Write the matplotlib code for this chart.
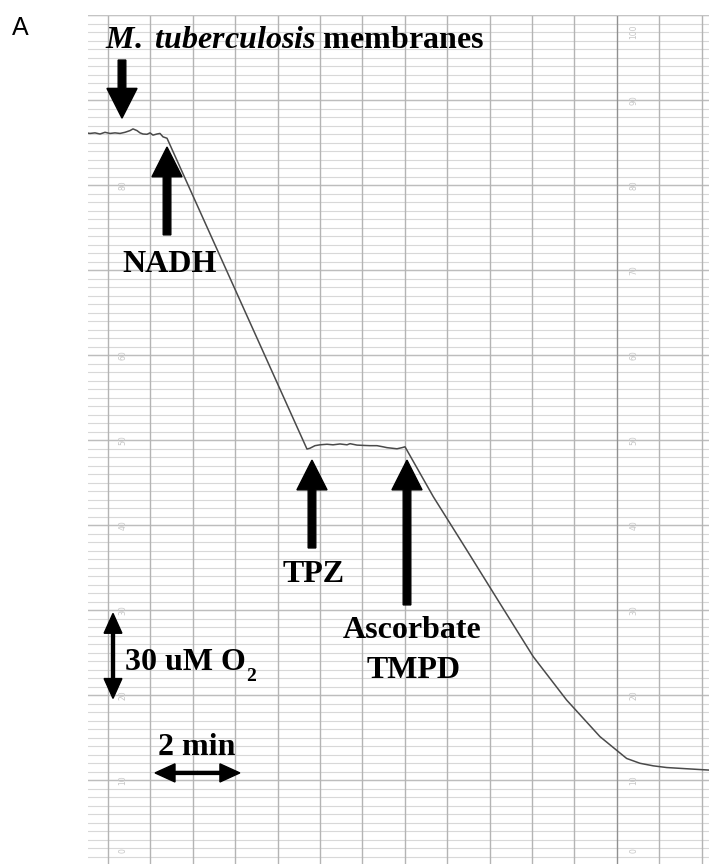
import matplotlib
matplotlib.use("Agg")
import matplotlib.pyplot as plt
import numpy as np

plt.rcParams['mathtext.fontset'] = 'custom'
plt.rcParams['mathtext.rm'] = 'Liberation Serif:bold'
plt.rcParams['mathtext.bf'] = 'Liberation Serif:bold'
plt.rcParams['mathtext.it'] = 'Liberation Serif:italic:bold'

# ---- data: oxygen electrode trace (time in min, O2 in uM) ----
time_min = [-0.47, -0.425, -0.307, -0.189, -0.071, 0.047, 0.165, 0.283, 0.401, 0.519,
            0.590, 0.684, 0.755, 0.825, 0.920, 0.991, 1.061, 1.156, 1.226, 1.297, 1.392,
            4.693, 4.764, 4.882, 5.0, 5.165, 5.307, 5.472, 5.637, 5.708, 5.873, 6.014,
            6.179, 6.344, 6.486, 6.580, 6.698, 6.816, 6.934, 7.005,
            7.672, 8.460, 9.245, 10.031, 10.818, 11.604, 12.233, 12.547, 12.86,
            13.177, 13.726, 14.175]
o2_uM = [258.3, 258.2, 258.4, 258.0, 258.6, 258.2, 258.4, 258.2, 258.6, 259.2,
         259.8, 259.2, 258.4, 258.0, 257.9, 258.4, 257.6, 258.0, 258.2, 257.0, 256.5,
         146.8, 147.1, 148.0, 148.3, 148.5, 148.3, 148.6, 148.3, 148.7, 148.2, 148.1,
         148.0, 148.0, 147.6, 147.3, 147.1, 146.9, 147.3, 147.6,
         130.0, 111.2, 92.3, 73.5, 58.2, 45.3, 37.6, 35.9, 35.0,
         34.4, 33.9, 33.5]

# addition event times (min)
event_times = [0.33, 1.392, 4.811, 7.052]
event_labels = ["M. tuberculosis membranes", "NADH", "TPZ", "Ascorbate\nTMPD"]

# faint recorder scale numbers on the chart paper
scale_values = [0, 30, 60, 90, 120, 150, 180, 210, 240, 270, 300]
scale_labels = ["0", "10", "20", "30", "40", "50", "60", "70", "80", "90", "100"]

# ---- figure ----
fig = plt.figure(figsize=(7.09, 8.64), dpi=100)
ax = fig.add_axes([88/709, -1/864, 621/709, 850/864])
ax.set_xlim(-0.4717, 14.175)
ax.set_ylim(0, 300)
ax.axis('off')

# chart paper grid
for yv in np.arange(0, 301, 3):
    ax.axhline(yv, color='#d8d8d8', lw=0.8, zorder=0)
for yv in np.arange(0, 301, 30):
    ax.axhline(yv, color='#bdbdbd', lw=1.0, zorder=0)
for xv in range(0, 15):
    ax.axvline(xv, color='#909090' if xv == 12 else '#b4b4b4', lw=1.0, zorder=0)
ax.axhline(300, color='#c4c4c4', lw=1.5, zorder=0)

for yv, lab in zip(scale_values, scale_labels):
    yy = min(max(yv, 5), 294)
    for xv in (0.35, 12.4):
        if xv < 1 and yv in (210, 300):
            continue  # hidden under the annotations in the reference
        ax.text(xv, yy, lab, fontsize=5.5, color='#c6c6c6', rotation=90,
                ha='center', va='center', zorder=1)

# trace
ax.plot(time_min, o2_uM, color='#4a4a4a', lw=1.1, zorder=3)

serif = dict(family='Liberation Serif', weight='bold', fontsize=23, color='black')

# title
ax.text(-0.071, 288.4, r'$\mathit{M.}$ $\mathit{tuberculosis}$ membranes', ha='left',
        va='baseline', zorder=5, **serif)

# big addition arrows
def big_arrow(x, y0, y1):
    ax.arrow(x, y0, 0, y1 - y0, width=0.18, head_width=0.71, head_length=10.5,
             length_includes_head=True, color='black', zorder=4)

big_arrow(event_times[0], 284.1, 263.6)   # membranes (down)
big_arrow(event_times[1], 222.4, 253.4)   # NADH
big_arrow(event_times[2], 111.9, 142.9)   # TPZ
big_arrow(event_times[3], 91.8, 142.9)    # Ascorbate/TMPD

ax.text(1.462, 209.3, event_labels[1], ha='center', va='baseline', zorder=5, **serif)
ax.text(4.858, 99.9, event_labels[2], ha='center', va='baseline', zorder=5, **serif)
asc, tmpd = event_labels[3].split("\n")
ax.text(7.17, 80.1, asc, ha='center', va='baseline', zorder=5, **serif)
ax.text(7.217, 66.0, tmpd, ha='center', va='baseline', zorder=5, **serif)

# scale bars
def double_arrow_v(x, yc, half):
    for s in (1, -1):
        ax.arrow(x, yc, 0, s * half, width=0.07, head_width=0.42, head_length=7,
                 length_includes_head=True, color='black', zorder=4)

def double_arrow_h(xc, y, half):
    for s in (1, -1):
        ax.arrow(xc, y, s * half, 0, width=1.06, head_width=6.4, head_length=0.47,
                 length_includes_head=True, color='black', zorder=4)

double_arrow_v(0.118, 73.8, 15)
t30 = ax.text(0.401, 68.8, '30 uM O', ha='left', va='baseline', zorder=5, **serif)
ax.annotate('2', xy=(1, 0), xycoords=t30, xytext=(0.5, -3), textcoords='offset points',
            ha='left', va='baseline', family='Liberation Serif', weight='bold',
            fontsize=14, zorder=5)

double_arrow_h(2.11, 32.5, 1.0)
ax.text(2.099, 38.8, '2 min', ha='center', va='baseline', zorder=5, **serif)

fig.text(12/709, 1 - 35/864, 'A', family='Liberation Sans', fontsize=18,
         ha='left', va='baseline')

fig.savefig('out.png', dpi=100)
